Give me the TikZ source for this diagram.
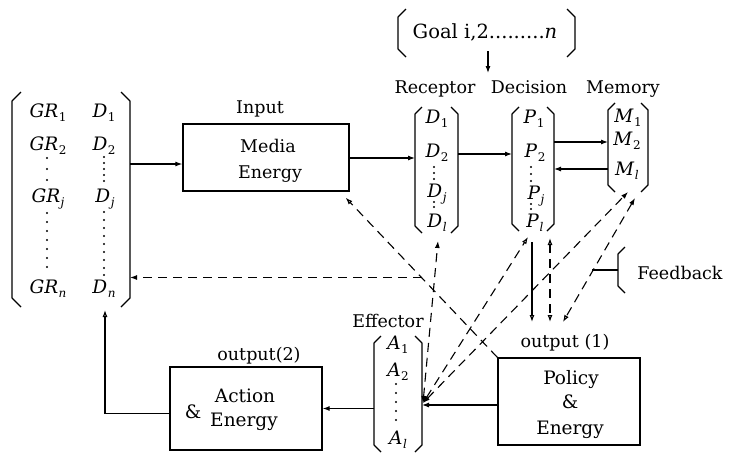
\documentclass[tikz,border=0pt]{standalone}
\usepackage{fontspec}
\setmainfont{DejaVu Serif}
\usetikzlibrary{arrows.meta,calc}
\newcommand\brkL[2]{\draw[brk] ($(#1.north west)+(#2,0)$) -- ($(#1.north west)+(0,#2)$) -- ($(#1.south west)+(0,-#2)$) -- ($(#1.south west)+(#2,0)$);}
\newcommand\brkR[2]{\draw[brk] ($(#1.north east)+(-#2,0)$) -- ($(#1.north east)+(0,#2)$) -- ($(#1.south east)+(0,-#2)$) -- ($(#1.south east)+(-#2,0)$);}
\newcommand\msub[2]{\textit{#1}\kern0.5pt\raisebox{-0.25em}{\fontsize{12}{13}\selectfont #2}}
\tikzset{
 ln/.style={line width=1.1pt},
 dsh/.style={line width=1.1pt, dash pattern=on 9pt off 6pt},
 fa/.style={-{Latex[length=7pt,width=5pt]}},
 oa/.style={-{Latex[open,length=7pt,width=5pt]}},
 ff/.style={{Latex[length=7pt,width=5pt]}-{Latex[length=7pt,width=5pt]}},
 fo/.style={{Latex[length=7pt,width=5pt]}-{Latex[open,length=7pt,width=5pt]}},
 oo/.style={{Latex[open,length=7pt,width=5pt]}-{Latex[open,length=7pt,width=5pt]}},
 txt/.style={font=\fontsize{17.5}{21}\selectfont, inner sep=0pt, anchor=base},
 mth/.style={font=\fontsize{18.5}{22}\selectfont, inner sep=0pt, anchor=base},
 bigt/.style={font=\fontsize{18.5}{22}\selectfont, inner sep=0pt, anchor=base},
 goalt/.style={font=\fontsize{19.5}{23}\selectfont, inner sep=0pt, anchor=base},
 boxx/.style={draw, line width=1.3pt, inner sep=0pt},
 grp/.style={inner sep=0pt, outer sep=0pt},
 brk/.style={line width=1.2pt, line join=round},
}
\begin{document}
\begin{tikzpicture}[x=1pt,y=-1pt]
\fill[white] (0,0) rectangle (734,456);
\useasboundingbox (0,0) rectangle (734,456);

% groups and boxes
\node[grp, minimum width=118pt, minimum height=215pt] (L) at (71,199.5) {};
\node[boxx, minimum width=166pt, minimum height=67pt] (media) at (266,157.5) {};
\node[grp, minimum width=43pt, minimum height=126pt] (rec) at (436.5,170) {};
\node[grp, minimum width=42pt, minimum height=124pt] (dec) at (533,169) {};
\node[grp, minimum width=40pt, minimum height=89pt] (mem) at (628,147.5) {};
\node[grp, minimum width=177pt, minimum height=48pt] (goal) at (486.5,33) {};
\node[grp, minimum width=48pt, minimum height=116pt] (eff) at (398,394) {};
\node[boxx, minimum width=152pt, minimum height=83pt] (act) at (246,408.5) {};
\node[boxx, minimum width=142pt, minimum height=87pt] (pol) at (569,401.5) {};
\node[grp, minimum width=6pt, minimum height=46pt] (fb) at (621,270) {};

% brackets
\brkL{L}{9} \brkR{L}{9}
\brkL{rec}{7} \brkR{rec}{7}
\brkL{dec}{7} \brkR{dec}{7}
\brkL{mem}{7} \brkR{mem}{7}
\brkL{goal}{8} \brkR{goal}{8}
\brkL{eff}{7} \brkR{eff}{7}
\brkL{fb}{7}

% left matrix
\node[mth] (GR1) at (48,117) {\msub{GR}{1}};
\node[mth] (LD1) at (104,117) {\msub{D}{1}};
\node[mth] (GR2) at (48,150) {\msub{GR}{2}};
\node[mth] (LD2) at (104,150) {\msub{D}{2}};
\node[mth] (GRj) at (48,202) {\msub{GR}{\textit{j}}};
\node[mth] (LDj) at (105,202) {\msub{D}{\textit{j}}};
\node[mth] (GRn) at (48,293) {\msub{GR}{\textit{n}}};
\node[mth] (LDn) at (104,293) {\msub{D}{\textit{n}}};
\foreach \y in {158,169,180,213,222,231,240,249,258,267} \fill (47,\y) circle (1.2pt);
\foreach \y in {157,163,169,175,181,212,220,228,236,244,252,260,268,275} \fill (104,\y) circle (1.2pt);

% receptor
\node[mth] (rD1) at (437,123) {\msub{D}{1}};
\node[mth] (rD2) at (437,157) {\msub{D}{2}};
\node[mth] (rDj) at (437,197) {\msub{D}{\textit{j}}};
\node[mth] (rDl) at (437,227) {\msub{D}{\textit{l}}};
\foreach \y in {167,173,179,202,207} \fill (434,\y) circle (1.1pt);

% decision
\node[mth] (P1) at (534,123) {\msub{P}{1}};
\node[mth] (P2) at (535,157) {\msub{P}{2}};
\node[mth] (Pj) at (536,199) {\msub{P}{\textit{j}}};
\node[mth] (Pl) at (535,227) {\msub{P}{\textit{l}}};
\foreach \y in {167,174,181,204,209} \fill (531,\y) circle (1.1pt);

% memory
\node[mth] (M1) at (628,122) {\msub{M}{1}};
\node[mth] (M2) at (627,145) {\msub{M}{2}};
\node[mth] (Ml) at (627,175) {\msub{M}{\textit{l}}};

% effector
\node[mth] (A1) at (398,349) {\msub{A}{1}};
\node[mth] (A2) at (398,376) {\msub{A}{2}};
\node[mth] (Al) at (398,444) {\msub{A}{\textit{l}}};
\foreach \y in {384,393,402,411,420} \fill (396,\y) circle (1.2pt);

% labels
\node[txt] (inp) at (260,113) {Input};
\node[txt] (med1) at (268,152) {Media};
\node[txt] (med2) at (270,178) {Energy};
\node[txt] (lrec) at (435,93) {Receptor};
\node[txt] (ldec) at (529,93) {Decision};
\node[txt] (lmem) at (623,93) {Memory};
\node[goalt] (gtx) at (485,38) {Goal i,2.........\textit{n}};
\node[txt] (leff) at (388,327) {Effector};
\node[txt] (out2) at (259,360) {output(2)};
\node[txt] (out1) at (565,347) {output (1)};
\node[bigt] (pol1) at (571,384) {Policy};
\node[bigt] (pol2) at (570,408) {\&};
\node[bigt] (pol3) at (570,434) {Energy};
\node[bigt] (act1) at (245,402) {Action};
\node[bigt] (act2) at (244,426) {Energy};
\node[bigt] (amp) at (193,418) {\&};
\node[txt] (fbt) at (680,279) {Feedback};

% solid connectors
\coordinate (s1) at ($(L.east)+(0,-35.5)$);
\draw[ln,fa] (s1) -- (s1 -| media.west);
\coordinate (s2) at ($(media.east)+(0,0.5)$);
\draw[ln,fa] (s2) -- (s2 -| rec.west);
\coordinate (s3) at ($(rec.east)+(0,-16)$);
\draw[ln,fa] (s3) -- (s3 -| dec.west);
\coordinate (s4) at ($(dec.east)+(0,-27)$);
\draw[ln,fa] (s4) -- (s4 -| mem.west);
\coordinate (s5) at ($(mem.west)+(0,21.5)$);
\draw[ln,fa] (s5) -- (s5 -| dec.east);
\draw[ln,fa] ($(goal.south)+(1.5,-6)$) -- ++(0,22);
\coordinate (s6) at ($(pol.west)+(0,3.5)$);
\draw[ln,fa] (s6) -- (s6 -| eff.east);
\draw[ln,fa] (act.east -| eff.west) -- (act.east);
\draw[ln,oa] ($(act.west)+(0,5)$) -| ($(L.south)+(34,3)$);
\draw[ln] (fb.west) -- ++(-26,0);

% dashed connectors
\coordinate (mse) at ($(media.south east)+(-4,6)$);
\draw[dsh,oa] (pol.north west) -- (mse);
\coordinate (br) at ($(pol.north west)!0.5!(mse)$);
\draw[dsh,fa] (br) -- (br -| L.east);
\coordinate (ec) at ($(eff.east)+(1,9)$);
\draw[dsh,ff] (ec) -- ($(rec.south)+(1.5,8)$);
\draw[dsh,fo] (ec) -- ($(dec.south)+(-5,6)$);
\draw[dsh,ff] (ec) -- (mem.south);
\draw[ln,oa] ($(dec.south)+(-1,11)$) -- ++(0,80);
\draw[dsh,oo] ($(dec.south)+(17,7)$) -- ++(0,84);
\coordinate (o1t) at (563,322);
\draw[dsh,fo] ($(mem.south)+(7,6)$) -- (o1t);
\end{tikzpicture}
\end{document}
